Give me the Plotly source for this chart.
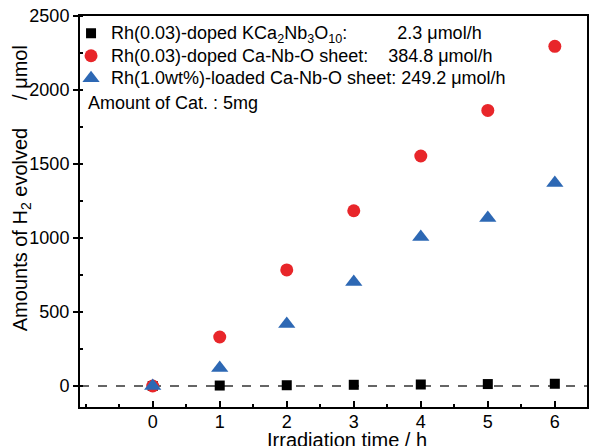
import plotly.graph_objects as go

time_h = [0, 1, 2, 3, 4, 5, 6]
kca_doped = [0, 3, 5, 8, 10, 13, 15]
sheet_doped = [0, 331, 784, 1184, 1554, 1862, 2295]
sheet_loaded = [0, 122, 419, 703, 1007, 1135, 1372]

labels = [
    "Rh(0.03)-doped KCa<sub>2</sub>Nb<sub>3</sub>O<sub>10</sub>:" + "&nbsp;" * 10 + "2.3 \u03bcmol/h",
    "Rh(0.03)-doped Ca-Nb-O sheet:" + "&nbsp;" * 4 + "384.8 \u03bcmol/h",
    "Rh(1.0wt%)-loaded Ca-Nb-O sheet:" + "&nbsp;" + "249.2 \u03bcmol/h",
]
note = "Amount of Cat. : 5mg"
x_title = "Irradiation time / h"
y_title = "Amounts of H<sub>2</sub> evolved" + "&nbsp;" * 5 + "/&nbsp;\u03bcmol"

W, H = 589, 446
ML, MR, MT, MB = 80, 0, 16, 39
FONT = "Liberation Sans, Arial, sans-serif"

def big(s):
    return '<span style="font-size:18px">' + s + "</span>"

fig = go.Figure()
fig.add_trace(go.Scatter(x=time_h, y=kca_doped, mode="markers", name=big(labels[0]),
                         marker=dict(symbol="square", size=10, color="black")))
fig.add_trace(go.Scatter(x=time_h, y=sheet_doped, mode="markers", name=big(labels[1]),
                         marker=dict(symbol="circle", size=13, color="#e8262a")))
fig.add_trace(go.Scatter(x=time_h, y=sheet_loaded, mode="markers", name=big(labels[2]),
                         marker=dict(symbol="triangle-up", size=15, color="#2d68b4")))

fig.add_shape(type="line", xref="paper", yref="y", x0=0, x1=1, y0=0, y1=0,
              line=dict(color="#333333", width=1.5, dash="dash"), layer="below")

pw = W - ML - MR
ph = H - MT - MB

def px_x(p):
    return (p - ML) / pw

def px_y(p):
    return (H - MB - p) / ph

fig.add_annotation(text=note, xref="paper", yref="paper", x=px_x(86), y=px_y(103),
                   xanchor="left", yanchor="middle", showarrow=False,
                   font=dict(size=18, color="black", family=FONT))
fig.add_annotation(text=x_title, xref="paper", yref="paper", x=px_x(348), y=px_y(440),
                   xanchor="center", yanchor="middle", showarrow=False,
                   font=dict(size=20, color="black", family=FONT))
fig.add_annotation(text=y_title, xref="paper", yref="paper", x=px_x(21), y=px_y(188),
                   xanchor="center", yanchor="middle", showarrow=False, textangle=-90,
                   font=dict(size=20, color="black", family=FONT))

fig.update_layout(
    width=W, height=H,
    margin=dict(l=ML, r=MR, t=MT, b=MB),
    paper_bgcolor="white", plot_bgcolor="white",
    font=dict(family=FONT, size=18, color="black"),
    showlegend=True,
    legend=dict(xref="paper", yref="paper", x=px_x(71), y=px_y(17),
                xanchor="left", yanchor="top", bgcolor="rgba(0,0,0,0)",
                font=dict(size=15, family=FONT, color="black"),
                itemwidth=30, tracegroupgap=0),
)
fig.update_xaxes(range=[-1.085, 6.48], tickvals=time_h, ticks="inside", ticklen=6,
                 tickwidth=1.5, tickcolor="black", showline=True, linecolor="black",
                 linewidth=2, mirror=True, showgrid=False, zeroline=False,
                 ticklabelstandoff=-3,
                 tickfont=dict(size=18, family=FONT, color="black"),
                 minor=dict(dtick=0.5, tick0=0.5, ticks="inside", ticklen=3,
                            tickwidth=1.5, tickcolor="black", showgrid=False))
fig.update_yaxes(range=[-142, 2500], dtick=500, tick0=0, ticks="outside", ticklen=5,
                 tickwidth=1.5, tickcolor="black", showline=True, linecolor="black",
                 linewidth=2, mirror=True, showgrid=False, zeroline=False,
                 tickfont=dict(size=18, family=FONT, color="black"),
                 minor=dict(dtick=250, tick0=250, ticks="inside", ticklen=3,
                            tickwidth=1.5, tickcolor="black", showgrid=False))

fig.write_html("out.html")
